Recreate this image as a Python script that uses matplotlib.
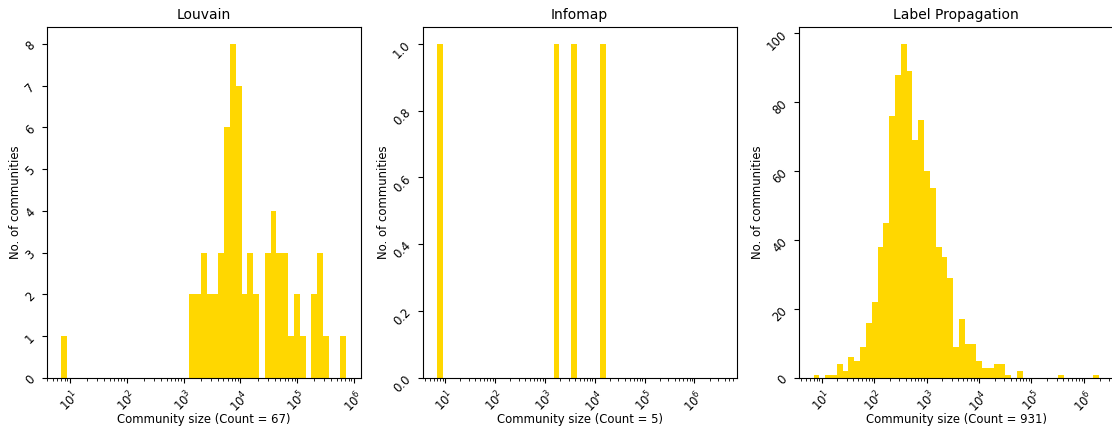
import numpy as np
import matplotlib
matplotlib.use("Agg")
import matplotlib.pyplot as plt

plt.rcParams["font.size"] = 8.33

# -------------------------------
# Histogram data
# 50 log-spaced edges between smallest and largest community -> 49 bins
# -------------------------------
titles = ["Louvain", "Infomap", "Label Propagation"]
totals = [67, 5, 931]
size_min = [7, 7, 7]
size_max = [7.3e5, 3.6e6, 1.9e6]

louvain_counts = [1] + [0] * 21 + [
    2, 2, 3, 2, 2, 3, 6, 8, 7, 2, 3, 2, 0,
    3, 4, 3, 3, 1, 2, 1, 0, 2, 3, 1, 0, 0, 1,
]

infomap_counts = [0] * 49
for i in [0, 20, 23, 28]:
    infomap_counts[i] = 1

lp_counts = [
    1, 0, 1, 1, 4, 2, 6, 5, 9,
    16, 22, 38, 45, 76, 88, 97, 89,
    69, 75, 60, 55, 38, 35, 29,
    9, 17, 10, 10, 5, 3, 3, 4, 4, 1, 0, 2,
    0, 0, 0, 0, 0, 0, 1, 0, 0, 0, 0, 0, 1,
]

all_counts = [louvain_counts, infomap_counts, lp_counts]

# -------------------------------
# Plot
# -------------------------------
fig = plt.figure(figsize=(11.12, 4.32), dpi=100)
W, H = 1112, 432
lefts = [47, 423, 799.3]
width = 313.5
bottom, top = 378, 27

for k in range(3):
    ax = fig.add_axes([lefts[k] / W, (H - bottom) / H, width / W, (bottom - top) / H])
    edges = np.logspace(np.log10(size_min[k]), np.log10(size_max[k]), 50)
    ax.hist(edges[:-1], bins=edges, weights=all_counts[k], color="gold")
    ax.set_xscale("log")
    ax.set_title(titles[k])
    ax.set_xlabel("Community size (Count = %d)" % totals[k], labelpad=-1)
    ax.set_ylabel("No. of communities", labelpad=0.5)
    ax.tick_params(axis="x", labelrotation=45)
    ax.tick_params(axis="y", labelrotation=45)

fig.savefig("out.png", dpi=100)
